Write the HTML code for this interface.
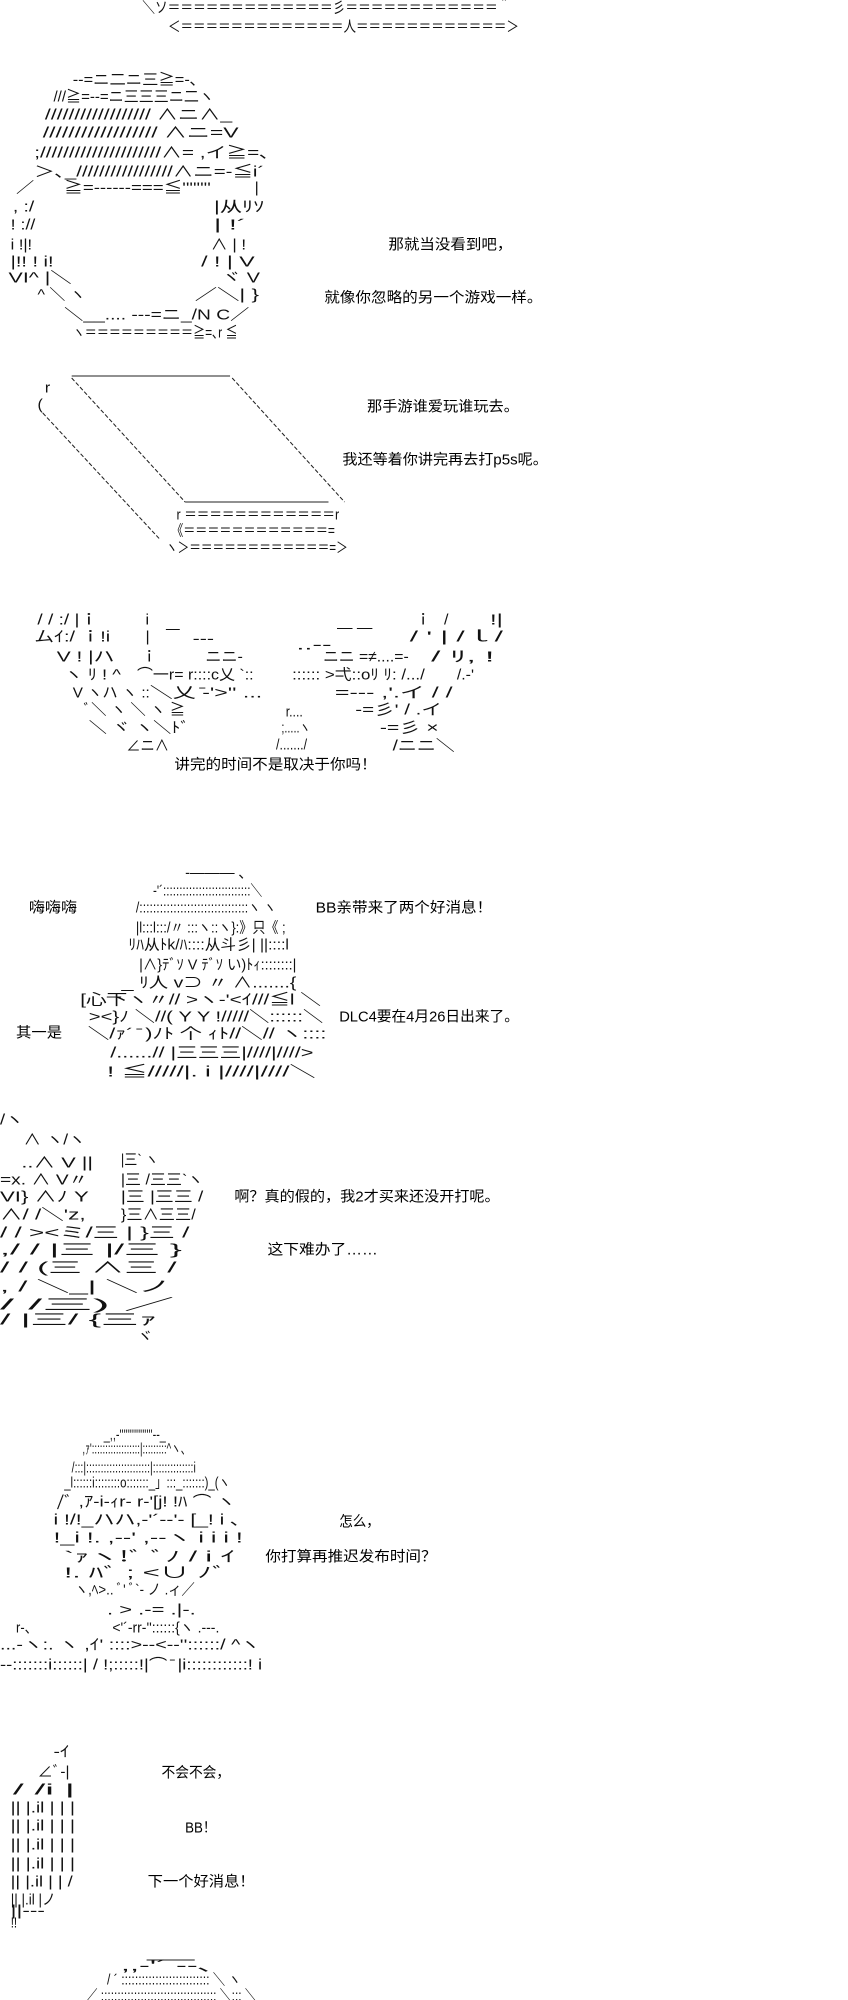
<!DOCTYPE html>
<html><head><meta charset="utf-8">
<style>
html,body{margin:0;padding:0;background:#fff;}
svg{display:block;}
text{font-family:"Liberation Sans","Noto Sans CJK JP",sans-serif;font-size:15px;fill:#111;dominant-baseline:central;}
.t{font-family:"Liberation Sans","Noto Sans CJK SC",sans-serif;font-size:14.5px;fill:#000;}
line{stroke:#222;stroke-width:1;}
</style></head><body>
<svg width="848" height="2000" viewBox="0 0 848 2000" xmlns="http://www.w3.org/2000/svg">
<g transform="scale(1.07,1)">
<!-- top -->
<text x="133" y="8" textLength="344" lengthAdjust="spacingAndGlyphs">＼ソ＝＝＝＝＝＝＝＝＝＝＝＝＝彡＝＝＝＝＝＝＝＝＝＝＝＝＾</text>
<text x="157" y="27" textLength="328" lengthAdjust="spacingAndGlyphs">＜＝＝＝＝＝＝＝＝＝＝＝＝＝人＝＝＝＝＝＝＝＝＝＝＝＝＞</text>

<!-- helmet -->
<text x="68" y="80" textLength="117" lengthAdjust="spacingAndGlyphs">‐-=ニ二ニ三≧=-､</text>
<text x="50" y="97" textLength="150" lengthAdjust="spacingAndGlyphs">///≧=--=ニ三三三ニ二ヽ</text>
<text x="42" y="115" textLength="175" lengthAdjust="spacingAndGlyphs">////////////////// ∧ニ∧_</text>
<text x="40" y="133" textLength="183" lengthAdjust="spacingAndGlyphs">////////////////// ∧ニ=V</text>
<text x="32" y="153" textLength="220" lengthAdjust="spacingAndGlyphs">;/////////////////////∧= ,イ≧=､</text>
<text x="32" y="172" textLength="215" lengthAdjust="spacingAndGlyphs">＞､_/////////////////∧ニ=-≦i´</text>
<text x="15" y="188" textLength="17" lengthAdjust="spacingAndGlyphs">／</text>
<text x="60" y="188" textLength="137" lengthAdjust="spacingAndGlyphs">≧=‐‐‐‐‐‐===≦''''''''</text>
<text x="238" y="188">|</text>
<text x="12" y="207" textLength="20" lengthAdjust="spacingAndGlyphs">, :/</text>
<text x="200" y="207" textLength="47" lengthAdjust="spacingAndGlyphs">|从ﾘｿ</text>
<text x="10" y="225" textLength="23" lengthAdjust="spacingAndGlyphs">! ://</text>
<text x="200" y="225" textLength="30" lengthAdjust="spacingAndGlyphs">|    !´</text>
<text x="10" y="245" textLength="20" lengthAdjust="spacingAndGlyphs">i !|!</text>
<text x="197" y="245" textLength="33" lengthAdjust="spacingAndGlyphs">∧ |  !</text>
<text x="10" y="262" textLength="40" lengthAdjust="spacingAndGlyphs">|!! !  i!</text>
<text x="188" y="262" textLength="50" lengthAdjust="spacingAndGlyphs">/ ! |  V</text>
<text x="8" y="278" textLength="59" lengthAdjust="spacingAndGlyphs">VI^ |＼</text>
<text x="207" y="278" textLength="36" lengthAdjust="spacingAndGlyphs">ヾ    V</text>
<text x="35" y="295" textLength="45" lengthAdjust="spacingAndGlyphs">^  ＼   ヽ</text>
<text x="182" y="295" textLength="60" lengthAdjust="spacingAndGlyphs">／＼|   }</text>
<text x="60" y="315" textLength="173" lengthAdjust="spacingAndGlyphs">＼__....  ‐‐‐=ニ_/N    C／</text>
<text x="68" y="333" textLength="154" lengthAdjust="spacingAndGlyphs">ヽ＝＝＝＝＝＝＝＝＝≧=､r  ≦</text>

<text class="t" x="363" y="245">那就当没看到吧，</text>
<text class="t" x="303" y="298" textLength="204" lengthAdjust="spacingAndGlyphs">就像你忽略的另一个游戏一样。</text>

<!-- book -->
<line x1="67" y1="376" x2="215" y2="376"/>
<text x="42" y="388">r</text>
<text x="35" y="405">(</text>
<line x1="67" y1="378" x2="173" y2="502" stroke-dasharray="4 2"/>
<line x1="217" y1="378" x2="322" y2="502" stroke-dasharray="4 2"/>
<line x1="40" y1="413" x2="150" y2="540" stroke-dasharray="4 2"/>
<line x1="173" y1="502" x2="307" y2="502"/>
<text x="165" y="515" textLength="152" lengthAdjust="spacingAndGlyphs">r ＝＝＝＝＝＝＝＝＝＝＝＝r</text>
<text x="160" y="531" textLength="153" lengthAdjust="spacingAndGlyphs">《＝＝＝＝＝＝＝＝＝＝＝＝=</text>
<text x="155" y="548" textLength="170" lengthAdjust="spacingAndGlyphs">ヽ＞＝＝＝＝＝＝＝＝＝＝＝＝=＞</text>

<text class="t" x="343" y="407" textLength="142" lengthAdjust="spacingAndGlyphs">那手游谁爱玩谁玩去。</text>
<text class="t" x="320" y="460" textLength="192" lengthAdjust="spacingAndGlyphs">我还等着你讲完再去打p5s呢。</text>

<!-- face -->
<text x="35" y="620" textLength="57" lengthAdjust="spacingAndGlyphs">/ / :/ |ｉ</text>
<text x="136" y="620">i</text>
<text x="155" y="629" textLength="13" lengthAdjust="spacingAndGlyphs">—</text>
<text x="315" y="628" textLength="33" lengthAdjust="spacingAndGlyphs">— —</text>
<text x="388" y="620">ｉ</text>
<text x="415" y="620">/</text>
<text x="458" y="620" textLength="12" lengthAdjust="spacingAndGlyphs">!|</text>
<text x="32" y="637" textLength="71" lengthAdjust="spacingAndGlyphs">ムｲ:/ ｉ!i</text>
<text x="136" y="637">|</text>
<text x="180" y="639" textLength="20" lengthAdjust="spacingAndGlyphs">--‐</text>
<text x="277" y="645" textLength="33" lengthAdjust="spacingAndGlyphs">..‐-</text>
<text x="383" y="637" textLength="87" lengthAdjust="spacingAndGlyphs">/  '  |  /ｌ/</text>
<text x="53" y="657" textLength="54" lengthAdjust="spacingAndGlyphs">V  ! |ハ</text>
<text x="132" y="657">ｉ</text>
<text x="192" y="657" textLength="35" lengthAdjust="spacingAndGlyphs">ニニ‐</text>
<text x="302" y="657" textLength="80" lengthAdjust="spacingAndGlyphs">ニニ =≠....=‐</text>
<text x="403" y="657" textLength="59" lengthAdjust="spacingAndGlyphs">/   ﾘ, !</text>
<text x="60" y="675" textLength="53" lengthAdjust="spacingAndGlyphs">ヽ  ﾘ ! ^</text>
<text x="128" y="675" textLength="109" lengthAdjust="spacingAndGlyphs">⌒一r= r::::c乂  `::</text>
<text x="273" y="675" textLength="124" lengthAdjust="spacingAndGlyphs">:::::: &gt;弌::oﾘ ﾘ: /.../</text>
<text x="427" y="675" textLength="16" lengthAdjust="spacingAndGlyphs">/.-'</text>
<text x="68" y="693" textLength="72" lengthAdjust="spacingAndGlyphs">V   ヽハ ヽ  ::</text>
<text x="140" y="693" textLength="105" lengthAdjust="spacingAndGlyphs">＼乂 ̄‐'&gt;'' ...</text>
<text x="313" y="693" textLength="110" lengthAdjust="spacingAndGlyphs">=‐‐‐ ,'.イ /  /</text>
<text x="78" y="710" textLength="95" lengthAdjust="spacingAndGlyphs">ﾞ＼ ヽ ＼ ヽ  ≧</text>
<text x="267" y="712" textLength="16" lengthAdjust="spacingAndGlyphs">r....</text>
<text x="332" y="710" textLength="81" lengthAdjust="spacingAndGlyphs">-=彡' / .イ</text>
<text x="83" y="728" textLength="94" lengthAdjust="spacingAndGlyphs">＼ ヾ ヽ＼ﾄﾞ</text>
<text x="263" y="728" textLength="27" lengthAdjust="spacingAndGlyphs">;.....ヽ</text>
<text x="355" y="728" textLength="55" lengthAdjust="spacingAndGlyphs">-=彡   ×</text>
<text x="118" y="746" textLength="40" lengthAdjust="spacingAndGlyphs">∠ニ∧</text>
<text x="258" y="745" textLength="29" lengthAdjust="spacingAndGlyphs">/......./</text>
<text x="367" y="746" textLength="58" lengthAdjust="spacingAndGlyphs">/ニニ＼</text>
<text class="t" x="163" y="765" textLength="189" lengthAdjust="spacingAndGlyphs">讲完的时间不是取决于你吗！</text>

<!-- BB -->
<text x="173" y="873" textLength="57" lengthAdjust="spacingAndGlyphs">‐―――  ､</text>
<text x="143" y="891" textLength="102" lengthAdjust="spacingAndGlyphs">-'´:::::::::::::::::::::::::::＼</text>
<text x="127" y="908" textLength="131" lengthAdjust="spacingAndGlyphs">/::::::::::::::::::::::::::::::::ヽ  ヽ</text>
<text x="127" y="928" textLength="140" lengthAdjust="spacingAndGlyphs">|l:::l:::/〃 :::ヽ::ヽ}:》只《 ;</text>
<text x="120" y="945" textLength="150" lengthAdjust="spacingAndGlyphs">ﾘﾊ从ﾄk/ﾊ::::从斗彡| ||::::l</text>
<text x="130" y="965" textLength="147" lengthAdjust="spacingAndGlyphs">|∧}ﾃﾞｿ V ﾃﾞｿ い)ﾄｨ::::::::|</text>
<text x="130" y="983" textLength="147" lengthAdjust="spacingAndGlyphs">ﾘ人    v⊃   〃 ∧.......{</text>
<text x="100" y="990" textLength="25" lengthAdjust="spacingAndGlyphs">__―</text>
<text x="75" y="1000" textLength="225" lengthAdjust="spacingAndGlyphs">[心下ヽ〃// &gt;ヽ-'&lt;ｲ///≦l    ＼</text>
<text x="83" y="1017" textLength="219" lengthAdjust="spacingAndGlyphs">&gt;&lt;}ﾉ ＼//(   Y Y   !/////＼::::::＼</text>
<text x="82" y="1034" textLength="223" lengthAdjust="spacingAndGlyphs">＼/ｧ´ ̄  )ﾉﾄ 个  ｨﾄ//＼//   ヽ::::</text>
<text x="103" y="1053" textLength="190" lengthAdjust="spacingAndGlyphs">/......// |三三三|////|////&gt;</text>
<text x="100" y="1072" textLength="195" lengthAdjust="spacingAndGlyphs">!  ≦/////|.   i   |////|////＼</text>
<text class="t" x="27" y="908" textLength="45" lengthAdjust="spacingAndGlyphs">嗨嗨嗨</text>
<text class="t" x="295" y="908" textLength="165" lengthAdjust="spacingAndGlyphs">BB亲带来了两个好消息！</text>
<text class="t" x="317" y="1017" textLength="168" lengthAdjust="spacingAndGlyphs">DLC4要在4月26日出来了。</text>
<text class="t" x="15" y="1033" textLength="43" lengthAdjust="spacingAndGlyphs">其一是</text>

<!-- block 6 -->
<text x="0" y="1120" textLength="22" lengthAdjust="spacingAndGlyphs">/ヽ</text>
<text x="22" y="1140" textLength="58" lengthAdjust="spacingAndGlyphs">∧   ヽ/ヽ</text>
<text x="20" y="1163" textLength="67" lengthAdjust="spacingAndGlyphs">..∧  V  ||</text>
<text x="113" y="1160" textLength="35" lengthAdjust="spacingAndGlyphs">|三` ヽ</text>
<text x="0" y="1180" textLength="82" lengthAdjust="spacingAndGlyphs">=x.  ∧  V〃</text>
<text x="113" y="1180" textLength="77" lengthAdjust="spacingAndGlyphs">|三 /三三`ヽ</text>
<text x="0" y="1197" textLength="83" lengthAdjust="spacingAndGlyphs">VI}   ∧ﾉ Y</text>
<text x="113" y="1197" textLength="77" lengthAdjust="spacingAndGlyphs">|三 |三三     /</text>
<text x="0" y="1215" textLength="80" lengthAdjust="spacingAndGlyphs">∧/   /＼'z,</text>
<text x="113" y="1215" textLength="70" lengthAdjust="spacingAndGlyphs">}三∧三三/</text>
<text x="0" y="1233" textLength="177" lengthAdjust="spacingAndGlyphs">/     /     &gt;&lt;ミ/三 | }三   /</text>
<text x="0" y="1250" textLength="170" lengthAdjust="spacingAndGlyphs">,/     /         |三  |/三  }</text>
<text x="0" y="1268" textLength="165" lengthAdjust="spacingAndGlyphs">/     /          (三 ∧三  /</text>
<text x="0" y="1287" textLength="160" lengthAdjust="spacingAndGlyphs">,   /              ＼_|  ＼ノ</text>
<text x="0" y="1305" textLength="163" lengthAdjust="spacingAndGlyphs">/               /三)      ／</text>
<text x="0" y="1320" textLength="147" lengthAdjust="spacingAndGlyphs">/               |三/   {三ｧ</text>
<text x="128" y="1337">ヾ</text>
<text class="t" x="219" y="1197" textLength="248" lengthAdjust="spacingAndGlyphs">啊？真的假的，我2才买来还没开打呢。</text>
<text class="t" x="250" y="1250" textLength="103" lengthAdjust="spacingAndGlyphs">这下难办了……</text>

<!-- block 7 -->
<text x="97" y="1435" textLength="58" lengthAdjust="spacingAndGlyphs">_,,-''''''''''''''''--_</text>
<text x="77" y="1449" textLength="101" lengthAdjust="spacingAndGlyphs">,ｧ'::::::::::::::::::|:::::::::^ヽ、</text>
<text x="67" y="1468" textLength="116" lengthAdjust="spacingAndGlyphs">/:::|::::::::::::::::::::::|::::::::::::::i</text>
<text x="60" y="1483" textLength="155" lengthAdjust="spacingAndGlyphs">_l::::::i::::::::o:::::::_」:::_:::::::)_(ヽ</text>
<text x="53" y="1502" textLength="167" lengthAdjust="spacingAndGlyphs">/ﾞ  ,ｱ-i-ｨr‐ r‐'[j! !ﾊ   ⌒  ヽ</text>
<text x="50" y="1520" textLength="175" lengthAdjust="spacingAndGlyphs">i   !/!_ハハ,-'´‐-'‐ [_!   i    ､</text>
<text x="50" y="1538" textLength="177" lengthAdjust="spacingAndGlyphs">!_i   !.  ,‐-'       ,‐-ヽ  i i  i   !</text>
<text x="60" y="1557" textLength="160" lengthAdjust="spacingAndGlyphs">`ｧヽ!ﾞ                 ﾞﾉ  / i ｲ</text>
<text x="60" y="1573" textLength="152" lengthAdjust="spacingAndGlyphs">!.  ﾊﾞ        ;        &lt;∪  ﾉﾞ</text>
<text x="70" y="1590" textLength="112" lengthAdjust="spacingAndGlyphs">ヽ,ﾍ&gt;..   ﾞ'   ﾞ`‐ ノ .ィ／</text>
<text x="100" y="1610" textLength="83" lengthAdjust="spacingAndGlyphs">. &gt; .-=  .|-.</text>
<text x="15" y="1628" textLength="20" lengthAdjust="spacingAndGlyphs">r-、</text>
<text x="105" y="1628" textLength="100" lengthAdjust="spacingAndGlyphs">&lt;'´‐rr‐''::::::{ヽ .-‐-.</text>
<text x="0" y="1645" textLength="243" lengthAdjust="spacingAndGlyphs">...-ヽ:.  ヽ    ,ｲ'  ::::&gt;-‐&lt;‐-''::::::/   ^ヽ</text>
<text x="0" y="1665" textLength="245" lengthAdjust="spacingAndGlyphs">‐‐:::::::i::::::| / !;:::::!|⌒ ̄ |i::::::::::::!     i</text>
<text class="t" x="317" y="1522" textLength="38" lengthAdjust="spacingAndGlyphs">怎么，</text>
<text class="t" x="248" y="1557" textLength="160" lengthAdjust="spacingAndGlyphs">你打算再推迟发布时间？</text>

<!-- block 8 -->
<text x="50" y="1752" textLength="15" lengthAdjust="spacingAndGlyphs">‐ｲ</text>
<text x="35" y="1772" textLength="30" lengthAdjust="spacingAndGlyphs">∠ﾞ‐|</text>
<text x="12" y="1790" textLength="58" lengthAdjust="spacingAndGlyphs">/   /i    |</text>
<text x="10" y="1808" textLength="60" lengthAdjust="spacingAndGlyphs">|| |.il |  |   |</text>
<text x="10" y="1826" textLength="60" lengthAdjust="spacingAndGlyphs">|| |.il |  |   |</text>
<text x="10" y="1845" textLength="60" lengthAdjust="spacingAndGlyphs">|| |.il |  |   |</text>
<text x="10" y="1864" textLength="60" lengthAdjust="spacingAndGlyphs">|| |.il |  |   |</text>
<text x="10" y="1882" textLength="58" lengthAdjust="spacingAndGlyphs">|| |.il |  |  /</text>
<text x="10" y="1900" textLength="42" lengthAdjust="spacingAndGlyphs">|| |.il |ノ</text>
<text x="10" y="1911" textLength="32" lengthAdjust="spacingAndGlyphs">||‐‐‐</text>
<text x="10" y="1923" textLength="6" lengthAdjust="spacingAndGlyphs">!!</text>
<text class="t" x="151" y="1773" textLength="64" lengthAdjust="spacingAndGlyphs">不会不会，</text>
<text class="t" x="173" y="1828" textLength="29" lengthAdjust="spacingAndGlyphs">BB！</text>
<text class="t" x="138" y="1882" textLength="100" lengthAdjust="spacingAndGlyphs">下一个好消息！</text>

<!-- block 9 -->
<line x1="137" y1="1960" x2="182" y2="1960"/>
<text x="113" y="1966" textLength="87" lengthAdjust="spacingAndGlyphs">,,-'´          ‐-､</text>
<text x="100" y="1980" textLength="125" lengthAdjust="spacingAndGlyphs">/ ´    ::::::::::::::::::::::::::    ＼ ヽ</text>
<text x="80" y="1996" textLength="160" lengthAdjust="spacingAndGlyphs">／ :::::::::::::::::::::::::::::::::::  ＼::: ＼</text>
</g>
</svg>
</body></html>
